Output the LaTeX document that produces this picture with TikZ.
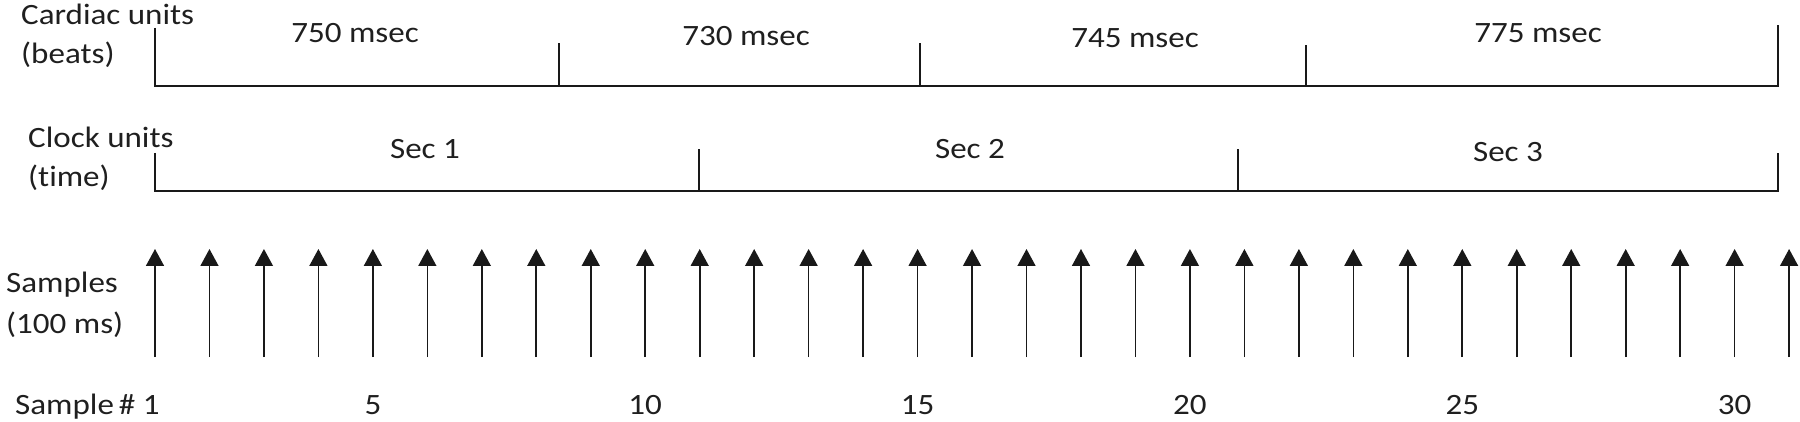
\documentclass[tikz,border=0pt]{standalone}
\usepackage{fontspec}
\setmainfont{Carlito}[FakeStretch=1.12, Ligatures=NoCommon]
\usetikzlibrary{arrows.meta}
\begin{document}
\begin{tikzpicture}[x=1pt,y=-1pt,
  lbl/.style={inner sep=0pt, font=\fontsize{29.5}{36}\selectfont, text=black!88},
  axisline/.style={line width=1.8pt, draw=black!90},
  tickline/.style={line width=1.3pt, draw=black!90},
  sample/.style={line width=1.6pt, draw=black!90, -{Triangle[length=17pt,width=18pt]}}]
\useasboundingbox (0,0) rectangle (1800,422);

% row labels
\node[lbl, anchor=base west] (cu) at (21,25) {Cardiac units};
\node[lbl, anchor=base west] (cb) at (21,64) {(beats)};
\node[lbl, anchor=base west] (ku) at (28,148) {Clock units};
\node[lbl, anchor=base west] (kt) at (28,187) {(time)};
\node[lbl, anchor=base west] (su) at (6,293) {Samples};
\node[lbl, anchor=base west] (sm) at (6,333) {(100 ms)};
\node[lbl, anchor=base west] (sn) at (15,414) {Sample\,\# 1};

% cardiac timeline
\coordinate (c0t) at (155,28);
\coordinate (c0) at (155,86);
\coordinate (c4) at (1778,86);
\coordinate (c4t) at (1778,25);
\draw[axisline] (c0t) -- (c0) -- (c4) -- (c4t);
\coordinate (c1) at (559,86); \coordinate (c1t) at (559,43);
\coordinate (c2) at (920,86); \coordinate (c2t) at (920,43);
\coordinate (c3) at (1306,86); \coordinate (c3t) at (1306,45);
\draw[tickline] (c1) -- (c1t);
\draw[tickline] (c2) -- (c2t);
\draw[tickline] (c3) -- (c3t);
\node[lbl, anchor=base] (b1) at (355,43) {750 msec};
\node[lbl, anchor=base] (b2) at (746,46) {730 msec};
\node[lbl, anchor=base] (b3) at (1135,48) {745 msec};
\node[lbl, anchor=base] (b4) at (1538,43) {775 msec};

% clock timeline
\coordinate (k0t) at (155,153);
\coordinate (k0) at (155,191);
\coordinate (k3) at (1778,191);
\coordinate (k3t) at (1778,153);
\draw[axisline] (k0t) -- (k0) -- (k3) -- (k3t);
\coordinate (k1) at (699,191); \coordinate (k1t) at (699,149);
\coordinate (k2) at (1238,191); \coordinate (k2t) at (1238,149);
\draw[tickline] (k1) -- (k1t);
\draw[tickline] (k2) -- (k2t);
\node[lbl, anchor=base] (s1) at (425,159) {Sec 1};
\node[lbl, anchor=base] (s2) at (970,159) {Sec 2};
\node[lbl, anchor=base] (s3) at (1508,162) {Sec 3};

% samples
\foreach \k in {1,...,31} {
  \pgfmathsetmacro{\xx}{155+(\k-1)*54.47}
  \coordinate (a\k b) at (\xx,357);
  \coordinate (a\k t) at (\xx,249);
  \draw[sample] (a\k b) -- (a\k t);
}
\foreach \k in {5,10,15,20,25,30} {
  \pgfmathsetmacro{\xx}{155+(\k-1)*54.47}
  \node[lbl, anchor=base] (n\k) at (\xx,414) {\k};
}
\end{tikzpicture}
\end{document}
